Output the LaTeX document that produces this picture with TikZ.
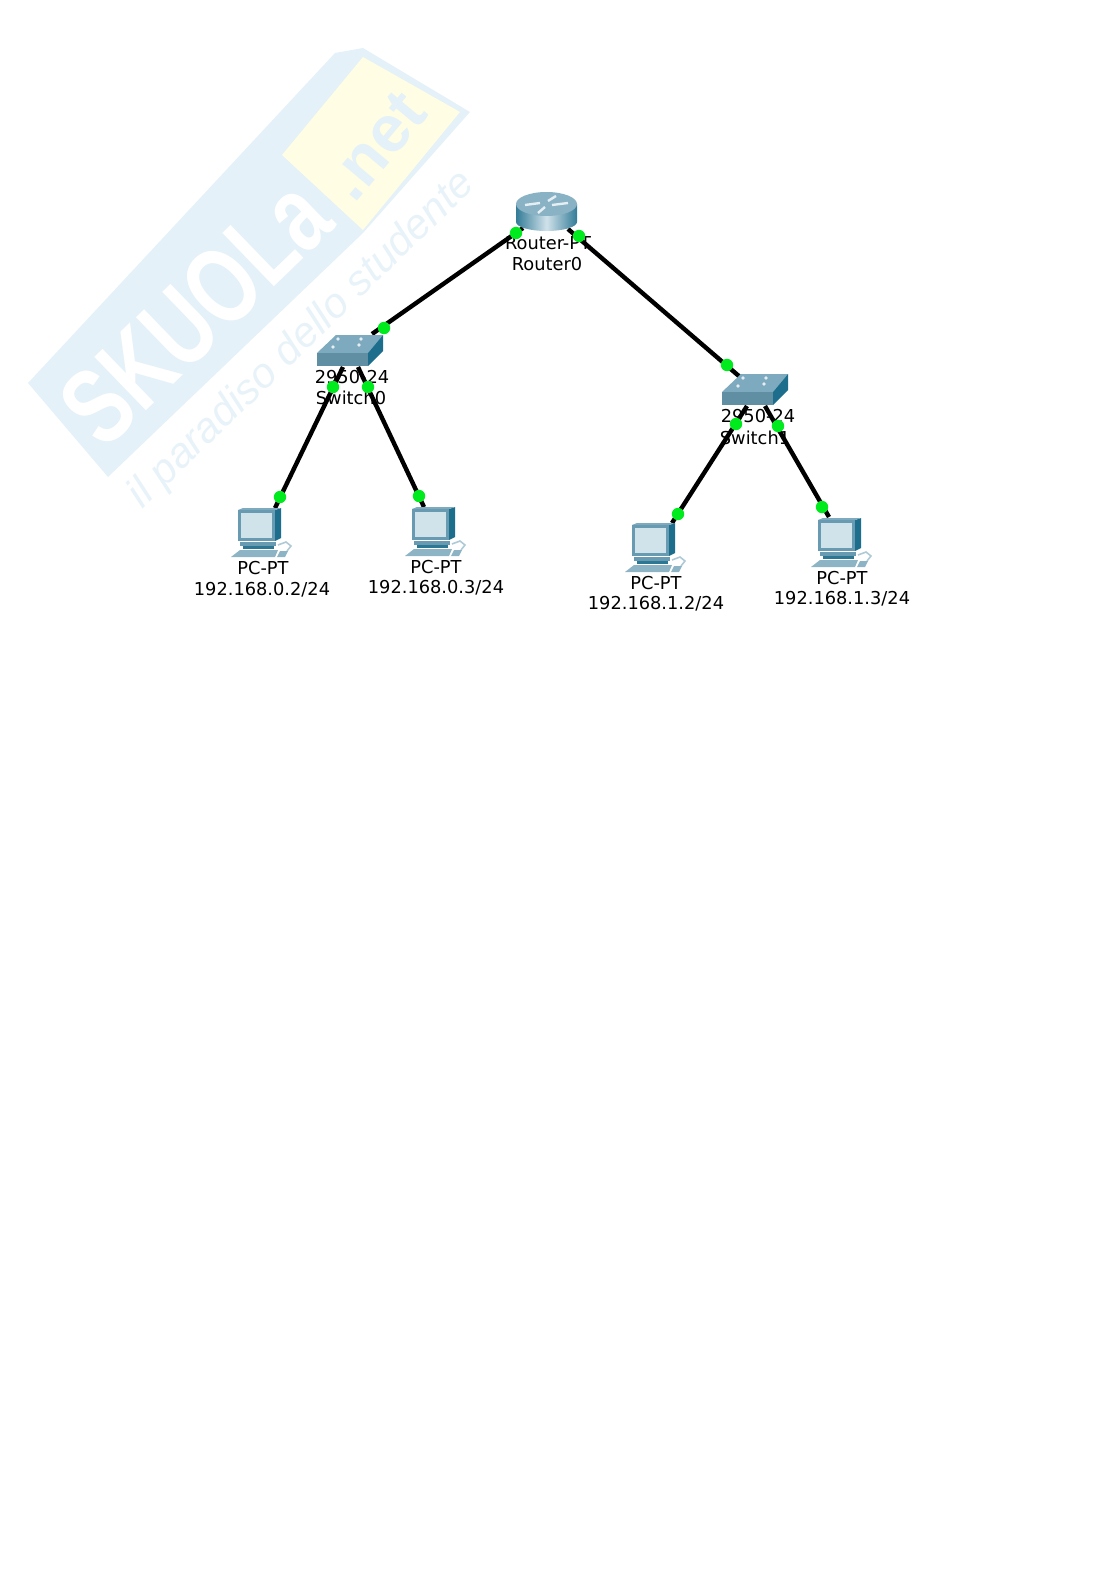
\documentclass[tikz,border=0pt]{standalone}
\usepackage{fontspec}
\setmainfont{DejaVu Sans}
\newfontfamily\wmfont{Liberation Sans}
\definecolor{wmBlue}{RGB}{228, 241, 248}
\definecolor{wmYellow}{RGB}{255, 253, 228}
\definecolor{wmText}{RGB}{232, 243, 249}
\definecolor{devFront}{RGB}{104, 155, 178}
\definecolor{devSide}{RGB}{28, 110, 140}
\definecolor{devTop}{RGB}{125, 170, 190}
\definecolor{devScreen}{RGB}{208, 226, 234}
\definecolor{devBase}{RGB}{140, 180, 196}
\definecolor{portGreen}{RGB}{0, 235, 30}
\tikzset{
  devlabel/.style={inner sep=0pt, font=\fontsize{8.9}{9}\selectfont},
  portdot/.style={circle, fill=portGreen, inner sep=0pt, minimum size=6.2pt},
  netlink/.style={line width=2.2pt, black},
  pics/swbox/.style={code={
    \fill[devTop] (0,18) -- (19,0) -- (66,0) -- (51,18) -- cycle;   % top face
    \fill[devFront!92!black] (0,18) rectangle (51,31);              % front face
    \fill[devSide] (51,18) -- (66,0) -- (66,16) -- (51,31) -- cycle;
    \fill[white!80!devTop] (16,12) circle (1.8) (44,4) circle (1.8)
      (21,4) circle (1.8) (42,10) circle (1.8);
  }},
  pics/pcbox/.style={code={
    \fill[devSide] (37,2) -- (43,0) -- (43,30) -- (37,33) -- cycle;  % monitor side
    \fill[devTop] (0,2) -- (5,0) -- (43,0) -- (37,2) -- cycle;
    \fill[devFront] (0,2) rectangle (37,33);
    \fill[devScreen] (3,5) rectangle (34,30);
    \fill[devFront] (2,34) rectangle (38,38);                        % stand
    \fill[devSide!80!devFront] (5,38) rectangle (36,41);
    \fill[devBase] (2,42) -- (40,42) -- (37,49) -- (-7,49) -- cycle; % keyboard
    \draw[devBase!70!white, line width=0.8pt] (40,37) -- (48,34) -- (53,38) -- (49,43); % mouse cable
    \fill[devBase] (42,43) -- (50,43) -- (47,49) -- (39,49) -- cycle;
  }}
}
\begin{document}
\begin{tikzpicture}[x=0.5pt, y=-0.5pt]
  \path[use as bounding box] (0,0) rectangle (1116,1579);
  % watermark
  \fill[wmBlue] (28,383) -- (335,53) -- (363,48) -- (470,112) -- (363,233) -- (108,477) -- cycle;
  \fill[wmYellow] (363,57) -- (460,112) -- (363,230) -- (282,155) -- cycle;
  \node (wmname) at (195,312) [rotate=44, yscale=1.35, text=white, inner sep=0pt,
    font=\wmfont\bfseries\fontsize{40}{40}\selectfont] {SKUOLa};
  \node (wmnet) at (376,146) [rotate=50, text=wmBlue, inner sep=0pt,
    font=\wmfont\bfseries\fontsize{33}{33}\selectfont] {.net};
  \node (wmline) at (302,340) [rotate=44, text=wmText, inner sep=0pt,
    font=\wmfont\itshape\fontsize{21}{21}\selectfont] {il paradiso dello studente};
  % link ends
  \coordinate (routerL) at (523,228);
  \coordinate (routerR) at (568,229);
  \coordinate (sw0top) at (372,334);
  \coordinate (sw1top) at (740,377);
  \coordinate (sw0L) at (343,367);
  \coordinate (sw0R) at (358,367);
  \coordinate (sw1L) at (747,406);
  \coordinate (sw1R) at (765,406);
  \coordinate (pc0top) at (275,508);
  \coordinate (pc1top) at (424,507);
  \coordinate (pc2top) at (672,523);
  \coordinate (pc3top) at (829,517);
  % links
  \draw[netlink] (routerL) -- (sw0top);
  \draw[netlink] (routerR) -- (sw1top);
  \draw[netlink] (sw0L) -- (pc0top);
  \draw[netlink] (sw0R) -- (pc1top);
  \draw[netlink] (sw1L) -- (pc2top);
  \draw[netlink] (sw1R) -- (pc3top);
  % router
  \shade[left color=devSide!70!devFront, right color=devSide!70!devFront, middle color=devScreen]
    (516,204) -- (516,222) arc (180:0:30.5 and 9) -- (577,204) -- cycle;
  \fill[devTop!85!devScreen] (546.5,204) ellipse (30.5 and 12);
  \draw[white!80!devTop, line width=1.2pt] (525,205) -- (540,203) (552,205) -- (568,203)
    (538,213) -- (545,207) (548,201) -- (556,196);
  % switches
  \pic at (317,335) {swbox};
  \pic at (722,374) {swbox};
  % pcs
  \pic at (238,508) {pcbox};
  \pic at (412,507) {pcbox};
  \pic at (632,523) {pcbox};
  \pic at (818,518) {pcbox};
  % labels
  \node[devlabel] (routerType) at (548,243) {Router-PT};
  \node[devlabel] (routerName) at (547,264) {Router0};
  \node[devlabel] (sw0Type) at (352,377) {2950-24};
  \node[devlabel] (sw0Name) at (351,398) {Switch0};
  \node[devlabel] (sw1Type) at (758,416) {2950-24};
  \node[devlabel] (sw1Name) at (755,438) {Switch1};
  \node[devlabel] (pc0Type) at (263,568) {PC-PT};
  \node[devlabel] (pc0Addr) at (262,590) {192.168.0.2/24};
  \node[devlabel] (pc1Type) at (436,567) {PC-PT};
  \node[devlabel] (pc1Addr) at (436,588) {192.168.0.3/24};
  \node[devlabel] (pc2Type) at (656,583) {PC-PT};
  \node[devlabel] (pc2Addr) at (656,604) {192.168.1.2/24};
  \node[devlabel] (pc3Type) at (842,578) {PC-PT};
  \node[devlabel] (pc3Addr) at (842,599) {192.168.1.3/24};
  % port lights
  \node[portdot] (dotA) at (516,233) {};
  \node[portdot] (dotB) at (579,236) {};
  \node[portdot] (dotC) at (384,328) {};
  \node[portdot] (dotD) at (727,365) {};
  \node[portdot] (dotE) at (333,387) {};
  \node[portdot] (dotF) at (368,387) {};
  \node[portdot] (dotG) at (736,424) {};
  \node[portdot] (dotH) at (778,426) {};
  \node[portdot] (dotI) at (280,497) {};
  \node[portdot] (dotJ) at (419,496) {};
  \node[portdot] (dotK) at (678,514) {};
  \node[portdot] (dotL) at (822,507) {};
\end{tikzpicture}
\end{document}
